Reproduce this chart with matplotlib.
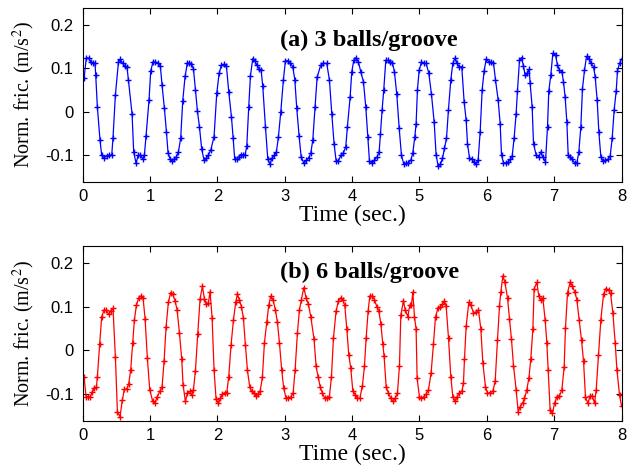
import matplotlib
matplotlib.use("Agg")
import matplotlib.pyplot as plt
import numpy as np

# ---- data ----
t_a = [0.02,0.054,0.089,0.124,0.153,0.183,0.193,0.218,0.257,0.282,
       0.317,0.356,0.396,0.431,0.45,0.485,0.53,0.559,0.594,0.624,
       0.658,0.678,0.733,0.757,0.792,0.822,0.856,0.891,0.916,0.94,
       0.985,1.01,1.045,1.079,1.119,1.153,1.178,1.213,1.243,1.267,
       1.297,1.327,1.356,1.391,1.421,1.455,1.485,1.52,1.554,1.584,
       1.614,1.644,1.673,1.703,1.733,1.767,1.802,1.832,1.866,1.901,
       1.95,1.99,2.025,2.059,2.104,2.134,2.168,2.208,2.233,2.257,
       2.287,2.317,2.347,2.376,2.411,2.436,2.465,2.49,2.525,2.554,
       2.584,2.619,2.649,2.673,2.713,2.748,2.782,2.812,2.847,2.876,
       2.906,2.941,2.98,3.01,3.05,3.084,3.119,3.149,3.178,3.213,
       3.243,3.282,3.322,3.356,3.386,3.416,3.45,3.48,
       3.534,3.574,3.623,3.663,3.698,3.732,3.762,3.797,3.836,3.871,
       3.906,3.93,3.97,3.995,4.025,4.059,4.094,4.128,4.168,4.203,
       4.232,4.257,4.297,4.332,4.371,4.401,4.421,4.445,4.47,4.5,
       4.53,4.564,4.599,4.628,4.663,4.698,4.732,4.767,4.802,4.837,
       4.871,4.901,4.931,4.95,4.97,4.995,5.03,5.064,5.099,5.138,
       5.178,5.218,5.247,5.277,5.312,5.341,5.371,5.401,5.43,5.465,
       5.495,5.53,5.554,5.589,5.628,5.663,5.693,5.713,5.742,5.777,
       5.807,5.841,5.871,5.901,5.931,5.96,5.99,6.03,6.064,6.099,
       6.128,6.168,6.198,6.218,6.247,6.282,6.316,6.346,6.376,6.406,
       6.435,6.455,6.485,6.515,6.544,6.569,6.599,6.629,6.643,6.673,
       6.693,6.732,6.772,6.802,6.831,6.871,6.901,6.92,6.95,6.98,
       7.02,7.049,7.079,7.114,7.138,7.163,7.188,7.208,7.237,7.267,
       7.302,7.336,7.366,7.396,7.42,7.45,7.48,7.515,7.544,7.584,
       7.609,7.638,7.663,7.693,7.723,7.757,7.797,7.831,7.861,7.891,
       7.921,7.94,7.97,8.0]
fric_a = [0.077,0.124,0.123,0.114,0.111,0.111,0.084,0.010,-0.065,-0.100,
          -0.105,-0.101,-0.099,-0.099,-0.059,0.038,0.113,0.120,0.111,0.105,
          0.102,0.073,-0.005,-0.092,-0.118,-0.100,-0.099,-0.108,-0.099,-0.056,
          0.028,0.094,0.115,0.114,0.111,0.105,0.061,0.008,-0.046,-0.094,
          -0.108,-0.112,-0.109,-0.103,-0.092,-0.060,0.025,0.081,0.112,0.112,
          0.109,0.099,0.050,0.002,-0.034,-0.086,-0.111,-0.107,-0.099,-0.088,
          -0.057,0.042,0.088,0.107,0.109,0.105,0.046,-0.011,-0.059,-0.109,
          -0.109,-0.104,-0.098,-0.099,-0.098,-0.079,0.011,0.082,0.122,0.117,
          0.107,0.099,0.095,0.059,-0.034,-0.109,-0.120,-0.105,-0.100,-0.092,
          -0.057,0.000,0.074,0.117,0.117,0.112,0.103,0.074,0.008,-0.056,
          -0.103,-0.118,-0.111,-0.105,-0.095,-0.065,0.011,0.079,
          0.107,0.111,0.111,0.073,-0.004,-0.073,-0.112,-0.112,-0.099,-0.094,
          -0.080,-0.034,0.033,0.092,0.118,0.124,0.114,0.092,0.069,0.011,
          -0.057,-0.112,-0.118,-0.111,-0.103,-0.092,-0.050,0.004,0.051,0.118,
          0.118,0.115,0.112,0.092,0.040,-0.036,-0.099,-0.120,-0.118,-0.117,
          -0.111,-0.094,-0.057,-0.027,0.051,0.095,0.114,0.112,0.111,0.089,
          0.040,-0.023,-0.099,-0.124,-0.120,-0.107,-0.084,-0.061,0.004,0.073,
          0.111,0.124,0.112,0.103,0.103,0.023,-0.019,-0.073,-0.105,-0.109,
          -0.115,-0.120,-0.111,-0.046,0.051,0.094,0.120,0.115,0.114,0.112,
          0.074,0.027,-0.027,-0.099,-0.117,-0.117,-0.115,-0.109,-0.102,-0.059,
          -0.004,0.048,0.118,0.124,0.105,0.084,0.088,0.097,0.065,0.011,
          -0.073,-0.099,-0.103,-0.092,-0.103,-0.115,-0.034,0.048,0.084,0.134,
          0.130,0.107,0.095,0.092,0.069,0.033,-0.023,-0.099,-0.103,-0.109,
          -0.117,-0.118,-0.092,-0.034,0.053,0.095,0.127,0.122,0.112,0.103,
          0.080,0.027,-0.046,-0.103,-0.112,-0.111,-0.109,-0.102,-0.061,0.005,
          0.048,0.094,0.111,0.121]

t_b = [0.02,0.05,0.084,0.114,0.139,0.173,0.203,0.218,0.252,0.282,
       0.317,0.347,0.386,0.416,0.45,0.485,0.515,0.554,0.589,0.619,
       0.653,0.683,0.713,0.743,0.767,0.797,0.832,0.861,0.896,0.926,
       0.96,0.995,1.04,1.069,1.109,1.144,1.178,1.208,1.238,1.272,
       1.307,1.337,1.371,1.401,1.436,1.47,1.49,1.525,1.554,1.589,
       1.619,1.644,1.673,1.708,1.743,1.777,1.807,1.837,1.866,1.891,
       1.921,1.95,1.98,2.015,2.045,2.074,2.109,2.139,2.168,2.203,
       2.238,2.272,2.297,2.327,2.356,2.386,2.416,2.446,2.48,2.51,
       2.54,2.574,2.604,2.634,2.668,2.698,2.733,2.762,2.792,2.827,
       2.861,2.891,2.921,2.955,2.985,3.02,3.05,3.089,3.124,3.153,
       3.188,3.218,3.248,3.282,3.317,3.351,3.386,
       3.435,3.465,3.495,3.525,3.559,3.594,3.628,3.663,3.693,3.723,
       3.762,3.797,3.832,3.861,3.891,3.921,3.95,3.98,4.01,4.045,
       4.079,4.114,4.153,4.183,4.208,4.238,4.262,4.297,4.332,4.366,
       4.396,4.426,4.455,4.475,4.505,4.539,4.574,4.604,4.638,4.673,
       4.703,4.723,4.762,4.787,4.827,4.856,4.881,4.901,4.926,4.95,
       4.965,5.0,5.03,5.064,5.099,5.134,5.173,5.208,5.238,5.277,
       5.312,5.341,5.371,5.396,5.431,5.465,5.495,5.53,5.559,5.589,
       5.629,5.653,5.668,5.693,5.733,5.762,5.802,5.836,5.876,5.911,
       5.941,5.98,6.01,6.05,6.089,6.124,6.158,6.188,6.208,6.238,
       6.267,6.307,6.336,6.366,6.396,6.435,6.465,6.495,6.53,6.559,
       6.594,6.624,6.653,6.683,6.703,6.742,6.772,6.802,6.831,6.866,
       6.891,6.911,6.94,6.975,7.005,7.04,7.079,7.114,7.148,7.168,
       7.198,7.238,7.272,7.307,7.336,7.371,7.406,7.436,7.465,7.5,
       7.535,7.564,7.599,7.624,7.658,7.693,7.733,7.767,7.807,7.837,
       7.871,7.906,7.931,7.97,8.0]
fric_b = [-0.061,-0.106,-0.106,-0.106,-0.096,-0.087,-0.084,-0.060,0.015,0.077,
          0.092,0.092,0.082,0.090,0.096,-0.015,-0.140,-0.152,-0.113,-0.089,
          -0.089,-0.077,-0.044,0.017,0.069,0.103,0.120,0.124,0.120,0.072,
          -0.018,-0.090,-0.117,-0.121,-0.106,-0.094,-0.084,-0.025,0.054,0.110,
          0.132,0.128,0.113,0.093,0.040,-0.020,-0.079,-0.117,-0.098,-0.094,
          -0.102,-0.090,-0.048,0.038,0.118,0.146,0.118,0.105,0.109,0.134,
          0.074,-0.044,-0.112,-0.121,-0.110,-0.100,-0.097,-0.097,-0.060,0.013,
          0.069,0.110,0.128,0.115,0.100,0.074,0.011,-0.046,-0.084,-0.094,
          -0.098,-0.104,-0.100,-0.094,-0.061,0.017,0.064,0.103,0.124,0.115,
          0.092,0.064,0.017,-0.046,-0.087,-0.110,-0.108,-0.107,-0.098,-0.046,
          0.040,0.093,0.116,0.143,0.120,0.105,0.077,
          0.025,-0.037,-0.060,-0.083,-0.098,-0.110,-0.108,-0.106,-0.060,0.028,
          0.090,0.113,0.120,0.115,0.103,0.049,-0.010,-0.041,-0.092,-0.102,
          -0.110,-0.110,-0.081,-0.037,0.028,0.090,0.124,0.124,0.116,0.100,
          0.090,0.061,0.015,-0.014,-0.083,-0.098,-0.110,-0.117,-0.110,-0.098,
          -0.035,0.080,0.113,0.093,0.077,0.103,0.103,0.133,0.077,0.048,
          -0.064,-0.107,-0.110,-0.106,-0.100,-0.090,-0.051,0.015,0.077,0.097,
          0.100,0.105,0.113,0.101,0.028,-0.060,-0.106,-0.117,-0.106,-0.098,
          -0.094,-0.075,-0.021,0.055,0.110,0.103,0.086,0.087,0.092,0.049,
          -0.029,-0.083,-0.098,-0.097,-0.094,-0.071,0.023,0.101,0.133,0.170,
          0.156,0.120,0.072,0.025,-0.035,-0.090,-0.140,-0.129,-0.121,-0.110,
          -0.090,-0.064,-0.020,0.048,0.141,0.155,0.124,0.115,0.120,0.069,
          0.017,-0.044,-0.136,-0.144,-0.121,-0.106,-0.104,-0.090,-0.038,0.051,
          0.132,0.156,0.146,0.133,0.116,0.070,0.023,-0.025,-0.107,-0.121,
          -0.104,-0.104,-0.121,-0.090,-0.010,0.070,0.128,0.141,0.138,0.130,
          0.086,0.017,-0.044,-0.102,-0.127]

x_ticks = [0, 1, 2, 3, 4, 5, 6, 7, 8]
y_ticks = [-0.1, 0, 0.1, 0.2]
y_tick_labels = ["-0.1", "0", "0.1", "0.2"]
titles = ["(a) 3 balls/groove", "(b) 6 balls/groove"]
x_label = "Time (sec.)"
y_label = r"Norm. fric. (m/s$^{2}$)"

plt.rcParams['mathtext.fontset'] = 'stix'

fig = plt.figure(figsize=(6.28, 4.68), dpi=100)
ax_a = fig.add_axes([0.1317, 0.611, 0.858, 0.372])
ax_b = fig.add_axes([0.1317, 0.101, 0.858, 0.373])

series = [(ax_a, t_a, fric_a, '#0000ff', 0.1645),
          (ax_b, t_b, fric_b, '#ff0000', 0.1775)]

for (ax, t, y, col, ty), title in zip(series, titles):
    ax.plot(t, y, color=col, lw=0.9, marker='+', ms=4, mew=1.0)
    ax.set_xlim(0, 8)
    ax.set_ylim(-0.161, 0.238)
    ax.set_xticks(x_ticks)
    ax.set_xticklabels([str(v) for v in x_ticks], fontfamily='Liberation Sans', fontsize=12)
    ax.set_yticks(y_ticks)
    ax.set_yticklabels(y_tick_labels, fontfamily='Liberation Sans', fontsize=12)
    ax.tick_params(direction='in', top=True, right=True, length=4, width=0.8,
                   pad=5, colors='black')
    ax.tick_params(axis='y', pad=6.5)
    for s in ax.spines.values():
        s.set_linewidth(0.8)
        s.set_color('black')
    ax.set_xlabel(x_label, fontfamily='Liberation Serif', fontsize=17)
    ax.xaxis.set_label_coords(0.5, -0.13)
    ax.set_ylabel(y_label, fontfamily='Liberation Serif', fontsize=14.5)
    ax.yaxis.set_label_coords(-0.085, 0.5)
    ax.text(2.93, ty, title, fontfamily='Liberation Serif', fontweight='bold',
            fontsize=17.5, ha='left', va='center')

fig.savefig("out.png", dpi=100)
